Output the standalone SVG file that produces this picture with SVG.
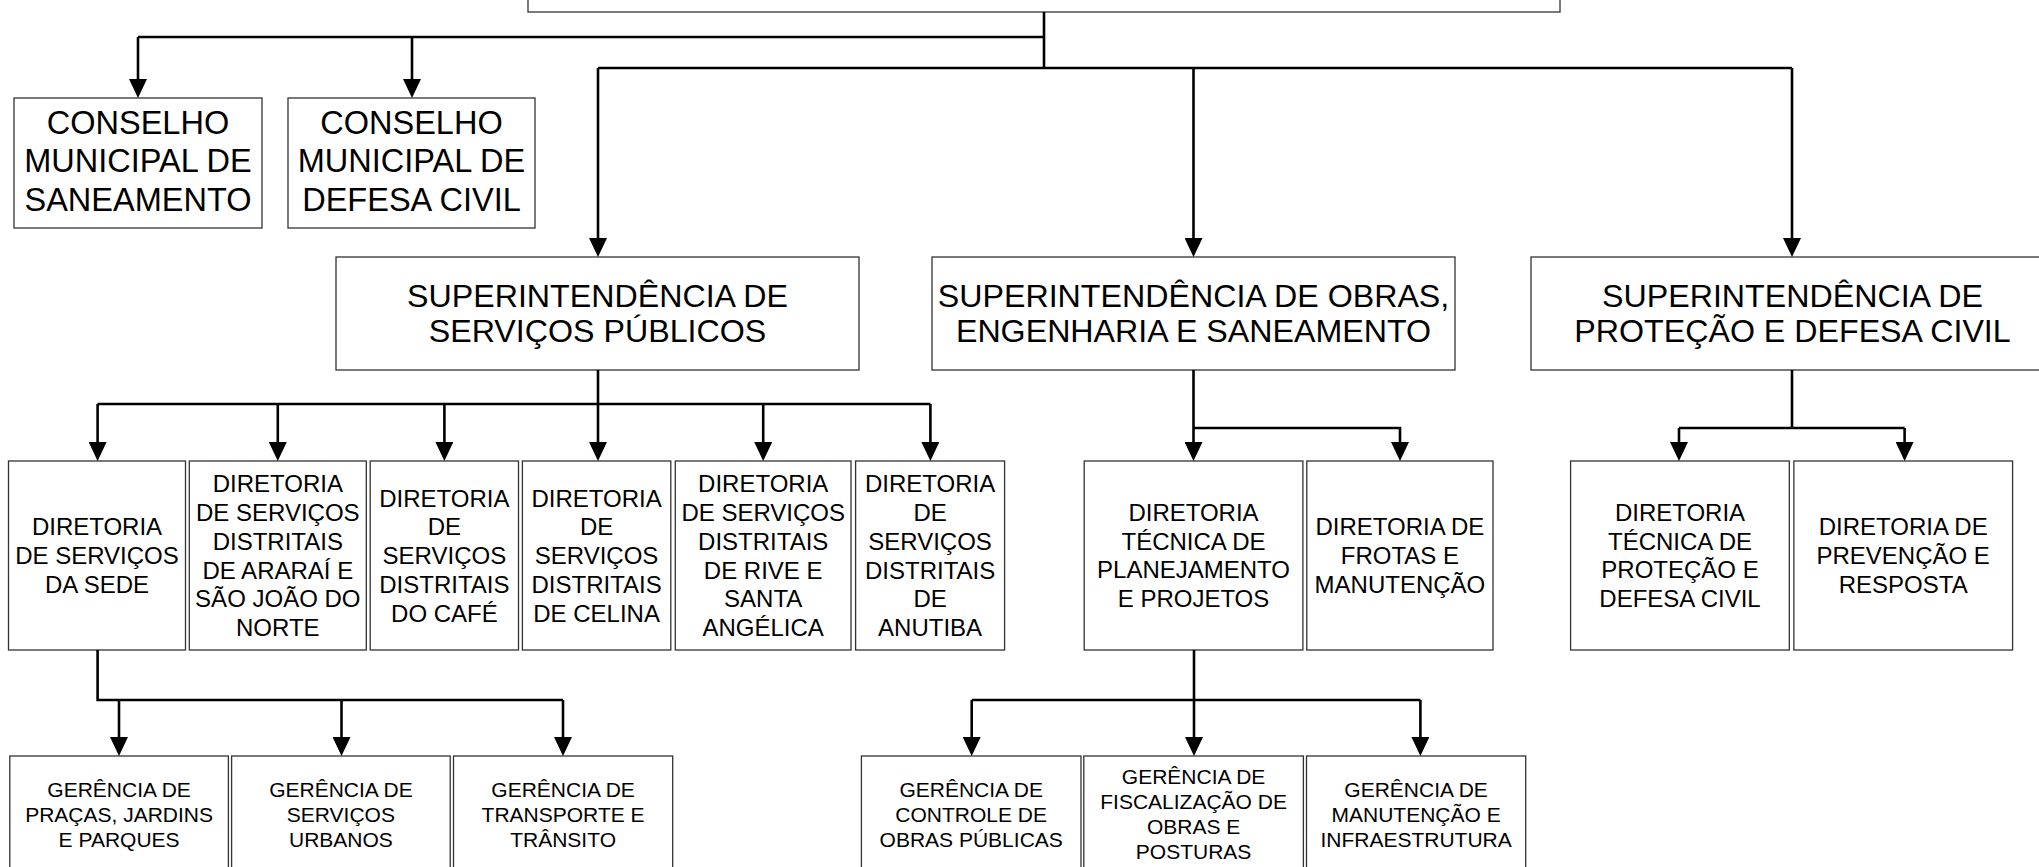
<svg xmlns="http://www.w3.org/2000/svg" width="2039" height="867" viewBox="0 0 2039 867">
<defs>
<marker id="ah" viewBox="0 0 19 18" refX="11" refY="9" markerWidth="19" markerHeight="18" markerUnits="userSpaceOnUse" orient="auto">
<path d="M0,0 L19,9 L0,18 Z" fill="#000"/>
</marker>
<style>
.box{fill:#fff;stroke:#333;stroke-width:1.3}
.t{font-family:"Liberation Sans",Arial,sans-serif;fill:#000;text-anchor:middle}
.l{font-size:32.2px}
.k{font-size:32.5px}
.m{font-size:24px}
.s{font-size:21px}
.c{fill:none;stroke:#000;stroke-width:2.6}
.a{fill:none;stroke:#000;stroke-width:2.6;marker-end:url(#ah)}
</style>
</defs>
<rect width="2039" height="867" fill="#fff"/>

<g id="top"><rect class="box" x="528" y="-30" width="1032" height="42"/></g>

<g id="conselho-saneamento"><rect class="box" x="14" y="98" width="248" height="130"/>
<text class="t k" x="138" y="133.5">CONSELHO</text><text class="t k" x="138" y="172">MUNICIPAL DE</text><text class="t k" x="138" y="210.5">SANEAMENTO</text></g>

<g id="conselho-defesa"><rect class="box" x="288" y="98" width="247" height="130"/>
<text class="t k" x="411.5" y="133.5">CONSELHO</text><text class="t k" x="411.5" y="172">MUNICIPAL DE</text><text class="t k" x="411.5" y="210.5">DEFESA CIVIL</text></g>

<g id="sup-servicos"><rect class="box" x="336" y="257" width="523" height="113"/>
<text class="t l" x="597.5" y="307">SUPERINTENDÊNCIA DE</text><text class="t l" x="597.5" y="342">SERVIÇOS PÚBLICOS</text></g>

<g id="sup-obras"><rect class="box" x="932" y="257" width="523" height="113"/>
<text class="t l" x="1193.5" y="307">SUPERINTENDÊNCIA DE OBRAS,</text><text class="t l" x="1193.5" y="342">ENGENHARIA E SANEAMENTO</text></g>

<g id="sup-defesa"><rect class="box" x="1531" y="257" width="523" height="113"/>
<text class="t l" x="1792.5" y="307">SUPERINTENDÊNCIA DE</text><text class="t l" x="1792.5" y="342">PROTEÇÃO E DEFESA CIVIL</text></g>

<g id="dir-sede"><rect class="box" x="8.5" y="461" width="177" height="189"/>
<text class="t m" x="97" y="535.4">DIRETORIA</text><text class="t m" x="97" y="564.1">DE SERVIÇOS</text><text class="t m" x="97" y="592.8">DA SEDE</text></g>

<g id="dir-arara"><rect class="box" x="189.3" y="461" width="177" height="189"/>
<text class="t m" x="277.8" y="492.4">DIRETORIA</text><text class="t m" x="277.8" y="521.1">DE SERVIÇOS</text><text class="t m" x="277.8" y="549.8">DISTRITAIS</text><text class="t m" x="277.8" y="578.5">DE ARARAÍ E</text><text class="t m" x="277.8" y="607.2">SÃO JOÃO DO</text><text class="t m" x="277.8" y="635.9">NORTE</text></g>

<g id="dir-cafe"><rect class="box" x="370.2" y="461" width="148.3" height="189"/>
<text class="t m" x="444.4" y="506.7">DIRETORIA</text><text class="t m" x="444.4" y="535.4">DE</text><text class="t m" x="444.4" y="564.1">SERVIÇOS</text><text class="t m" x="444.4" y="592.8">DISTRITAIS</text><text class="t m" x="444.4" y="621.5">DO CAFÉ</text></g>

<g id="dir-celina"><rect class="box" x="522.4" y="461" width="148.4" height="189"/>
<text class="t m" x="596.6" y="506.7">DIRETORIA</text><text class="t m" x="596.6" y="535.4">DE</text><text class="t m" x="596.6" y="564.1">SERVIÇOS</text><text class="t m" x="596.6" y="592.8">DISTRITAIS</text><text class="t m" x="596.6" y="621.5">DE CELINA</text></g>

<g id="dir-rive"><rect class="box" x="675.3" y="461" width="175.7" height="189"/>
<text class="t m" x="763.2" y="492.4">DIRETORIA</text><text class="t m" x="763.2" y="521.1">DE SERVIÇOS</text><text class="t m" x="763.2" y="549.8">DISTRITAIS</text><text class="t m" x="763.2" y="578.5">DE RIVE E</text><text class="t m" x="763.2" y="607.2">SANTA</text><text class="t m" x="763.2" y="635.9">ANGÉLICA</text></g>

<g id="dir-anutiba"><rect class="box" x="855.6" y="461" width="149" height="189"/>
<text class="t m" x="930.1" y="492.4">DIRETORIA</text><text class="t m" x="930.1" y="521.1">DE</text><text class="t m" x="930.1" y="549.8">SERVIÇOS</text><text class="t m" x="930.1" y="578.5">DISTRITAIS</text><text class="t m" x="930.1" y="607.2">DE</text><text class="t m" x="930.1" y="635.9">ANUTIBA</text></g>

<g id="dir-planejamento"><rect class="box" x="1084.2" y="461" width="218.7" height="189"/>
<text class="t m" x="1193.5" y="521">DIRETORIA</text><text class="t m" x="1193.5" y="549.7">TÉCNICA DE</text><text class="t m" x="1193.5" y="578.4">PLANEJAMENTO</text><text class="t m" x="1193.5" y="607.1">E PROJETOS</text></g>

<g id="dir-frotas"><rect class="box" x="1306.8" y="461" width="186.2" height="189"/>
<text class="t m" x="1399.9" y="535.4">DIRETORIA DE</text><text class="t m" x="1399.9" y="564.1">FROTAS E</text><text class="t m" x="1399.9" y="592.8">MANUTENÇÃO</text></g>

<g id="dir-protecao"><rect class="box" x="1570.6" y="461" width="218.7" height="189"/>
<text class="t m" x="1680" y="521">DIRETORIA</text><text class="t m" x="1680" y="549.7">TÉCNICA DE</text><text class="t m" x="1680" y="578.4">PROTEÇÃO E</text><text class="t m" x="1680" y="607.1">DEFESA CIVIL</text></g>

<g id="dir-prevencao"><rect class="box" x="1793.9" y="461" width="218.7" height="189"/>
<text class="t m" x="1903.2" y="535.4">DIRETORIA DE</text><text class="t m" x="1903.2" y="564.1">PREVENÇÃO E</text><text class="t m" x="1903.2" y="592.8">RESPOSTA</text></g>

<g id="ger-pracas"><rect class="box" x="9.8" y="756" width="218.6" height="130"/>
<text class="t s" x="119.1" y="796.5">GERÊNCIA DE</text><text class="t s" x="119.1" y="821.5">PRAÇAS, JARDINS</text><text class="t s" x="119.1" y="846.5">E PARQUES</text></g>

<g id="ger-urbanos"><rect class="box" x="231.6" y="756" width="218.6" height="130"/>
<text class="t s" x="340.9" y="796.5">GERÊNCIA DE</text><text class="t s" x="340.9" y="821.5">SERVIÇOS</text><text class="t s" x="340.9" y="846.5">URBANOS</text></g>

<g id="ger-transito"><rect class="box" x="453.5" y="756" width="219.2" height="130"/>
<text class="t s" x="563.1" y="796.5">GERÊNCIA DE</text><text class="t s" x="563.1" y="821.5">TRANSPORTE E</text><text class="t s" x="563.1" y="846.5">TRÂNSITO</text></g>

<g id="ger-controle"><rect class="box" x="861.4" y="756" width="219.6" height="130"/>
<text class="t s" x="971.2" y="796.5">GERÊNCIA DE</text><text class="t s" x="971.2" y="821.5">CONTROLE DE</text><text class="t s" x="971.2" y="846.5">OBRAS PÚBLICAS</text></g>

<g id="ger-fiscalizacao"><rect class="box" x="1083.8" y="756" width="219.6" height="130"/>
<text class="t s" x="1193.6" y="784">GERÊNCIA DE</text><text class="t s" x="1193.6" y="809">FISCALIZAÇÃO DE</text><text class="t s" x="1193.6" y="834">OBRAS E</text><text class="t s" x="1193.6" y="859">POSTURAS</text></g>

<g id="ger-manutencao"><rect class="box" x="1306.5" y="756" width="219.2" height="130"/>
<text class="t s" x="1416.1" y="796.5">GERÊNCIA DE</text><text class="t s" x="1416.1" y="821.5">MANUTENÇÃO E</text><text class="t s" x="1416.1" y="846.5">INFRAESTRUTURA</text></g>

<g id="connectors">
<path class="c" d="M1044,12 V68 M1044,37 H138 M598,68 H1792"/>
<path class="a" d="M138,37 V90"/>
<path class="a" d="M412,37 V90"/>
<path class="a" d="M598,68 V249"/>
<path class="a" d="M1193.5,68 V249"/>
<path class="a" d="M1792,68 V249"/>

<path class="c" d="M97.6,404 H930.4"/>
<path class="a" d="M598,370 V453"/>
<path class="a" d="M97.6,404 V453"/>
<path class="a" d="M277.8,404 V453"/>
<path class="a" d="M444.4,404 V453"/>
<path class="a" d="M763.2,404 V453"/>
<path class="a" d="M930.4,404 V453"/>

<path class="a" d="M1193.5,370 V453"/>
<path class="a" d="M1193.5,428 H1400 V453"/>

<path class="c" d="M1792,370 V428 M1679,428 H1904.6"/>
<path class="a" d="M1679,428 V453"/>
<path class="a" d="M1904.6,428 V453"/>

<path class="c" d="M97.6,650 V700 H563"/>
<path class="a" d="M119,700 V748"/>
<path class="a" d="M341.5,700 V748"/>
<path class="a" d="M563,700 V748"/>

<path class="c" d="M971.7,700 H1420.4"/>
<path class="a" d="M1194,650 V748"/>
<path class="a" d="M971.7,700 V748"/>
<path class="a" d="M1420.4,700 V748"/>
</g>
</svg>
